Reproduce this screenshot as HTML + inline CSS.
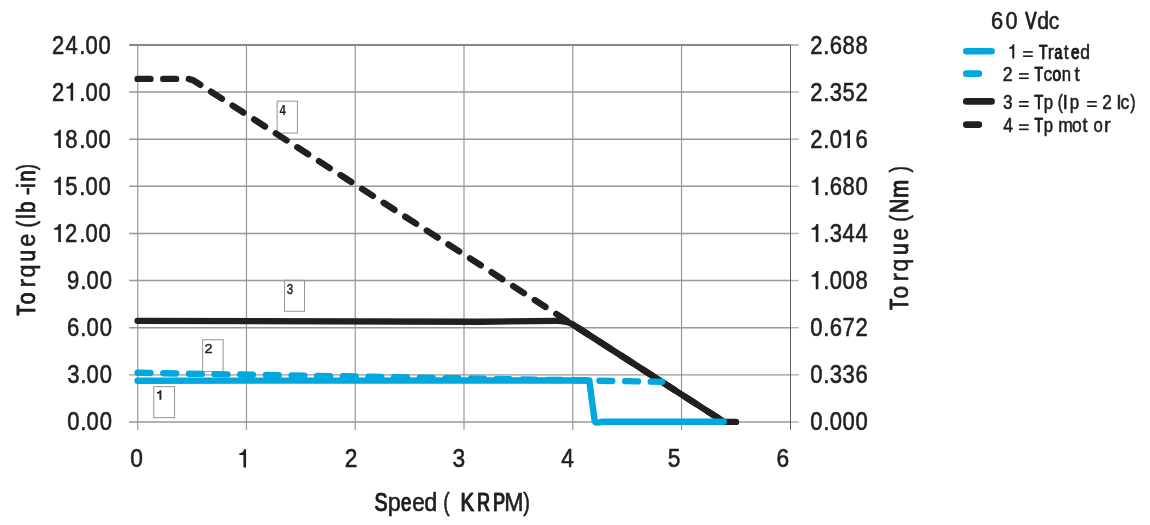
<!DOCTYPE html>
<html><head><meta charset="utf-8"><title>Torque vs Speed - 60 Vdc</title>
<style>html,body{margin:0;padding:0;background:#fff;}svg{display:block;will-change:transform;filter:opacity(1);}text{font-family:"Liberation Sans",sans-serif;fill:#231f20;stroke:#231f20;stroke-width:0.6px;stroke-linejoin:round;}.one{fill:#231f20;stroke:none;}</style>
</head><body>
<svg width="1150" height="525" viewBox="0 0 1150 525">
<rect x="0" y="0" width="1150" height="525" fill="#ffffff"/>
<g stroke="#96989a" stroke-width="1.45" fill="none"><line x1="129.2" y1="422.00" x2="791" y2="422.00"/><line x1="129.2" y1="374.86" x2="791" y2="374.86"/><line x1="129.2" y1="327.72" x2="791" y2="327.72"/><line x1="129.2" y1="280.58" x2="791" y2="280.58"/><line x1="129.2" y1="233.44" x2="791" y2="233.44"/><line x1="129.2" y1="186.30" x2="791" y2="186.30"/><line x1="129.2" y1="139.16" x2="791" y2="139.16"/><line x1="129.2" y1="92.02" x2="791" y2="92.02"/></g>
<g stroke="#96989a" stroke-width="1.2" fill="none"><line x1="137.70" y1="44.78" x2="137.70" y2="430"/><line x1="246.47" y1="44.78" x2="246.47" y2="430"/><line x1="355.24" y1="44.78" x2="355.24" y2="430"/><line x1="464.01" y1="44.78" x2="464.01" y2="430"/><line x1="572.78" y1="44.78" x2="572.78" y2="430"/><line x1="681.55" y1="44.78" x2="681.55" y2="430"/></g>
<line x1="129.2" y1="44.98" x2="791" y2="44.98" stroke="#85878a" stroke-width="1.8"/>
<line x1="790.5" y1="45.68" x2="790.5" y2="430" stroke="#5d5e60" stroke-width="1"/>
<g stroke="#b3b5b7" stroke-width="1.45" fill="none"><line x1="791" y1="422.00" x2="798.8" y2="422.00"/><line x1="791" y1="374.86" x2="798.8" y2="374.86"/><line x1="791" y1="327.72" x2="798.8" y2="327.72"/><line x1="791" y1="280.58" x2="798.8" y2="280.58"/><line x1="791" y1="233.44" x2="798.8" y2="233.44"/><line x1="791" y1="186.30" x2="798.8" y2="186.30"/><line x1="791" y1="139.16" x2="798.8" y2="139.16"/><line x1="791" y1="92.02" x2="798.8" y2="92.02"/></g>
<line x1="791" y1="44.98" x2="798.8" y2="44.98" stroke="#b3b5b7" stroke-width="1.8"/>
<rect x="153.75" y="386.65" width="20.80" height="31.00" fill="#fff" stroke="#929497" stroke-width="1"/>
<rect x="202.65" y="339.75" width="20.50" height="31.90" fill="#fff" stroke="#929497" stroke-width="1"/>
<rect x="284.55" y="280.45" width="20.00" height="30.80" fill="#fff" stroke="#929497" stroke-width="1"/>
<rect x="277.15" y="101.15" width="20.25" height="31.90" fill="#fff" stroke="#929497" stroke-width="1"/>
<line x1="283" y1="280.58" x2="306" y2="280.58" stroke="#96989a" stroke-width="1.45"/>
<path class="one" transform="translate(156.95,399.7)" d="M4.4,0 L2.55,0 L2.55,-6.3 L0,-6.3 L0,-7.6 C1.5,-7.7 2.6,-8.3 3.0,-9.5 L4.4,-9.5 Z"/>
<text transform="translate(204.45,352.8) scale(1.06,1)" font-size="13.6" style="stroke-width:0.45px">2</text>
<text transform="translate(286.75,293.65) scale(0.82,1)" font-size="14.0" style="stroke-width:0.45px">3</text>
<text transform="translate(279.55,114.8) scale(0.78,1)" font-size="14.6" font-weight="bold" style="stroke:none">4</text>
<g fill="none" stroke-linecap="round" stroke-linejoin="round" stroke-width="6.4">
<path d="M137.60,78.9 L187.5,78.9 Q192.5,78.9 197.5,83.0 L572.00,324.00 L724.10,421.90" stroke="#231f20" stroke-dasharray="12.85 12.81"/>
<path d="M137.60,320.85 L480,321.7 L556,320.9 Q566,320.8 572.00,324.00 L724.10,421.90 L736.0,421.9" stroke="#231f20"/>
<path d="M137.60,372.8 L662.0,381.8" stroke="#00a8de" stroke-dasharray="12.85 12.81"/>
<path d="M137.60,380.7 L589.3,380.5 L594.6,420.5 Q595.2,424.2 602.5,421.6 L723.7,421.7" stroke="#00a8de"/>
</g>
<text transform="translate(67.80,430.35) scale(0.858,1)" font-size="25.7" x="-0.70 14.39 21.79 37.17">0.00</text>
<text transform="translate(67.80,383.28) scale(0.858,1)" font-size="25.7" x="-0.68 14.39 21.79 37.17">3.00</text>
<text transform="translate(67.80,336.21) scale(0.858,1)" font-size="25.7" x="-1.01 14.39 21.79 37.17">6.00</text>
<text transform="translate(67.80,289.14) scale(0.858,1)" font-size="25.7" x="-0.90 14.39 21.79 37.17">9.00</text>
<path class="one" transform="translate(54.15,242.07) scale(0.9748)" d="M6.9,0 L4.2,0 L4.2,-12.7 L0,-12.7 L0,-14.5 C2.4,-14.6 4.2,-15.8 4.9,-18.6 L6.9,-18.6 Z"/><text transform="translate(53.90,242.07) scale(0.858,1)" font-size="25.7" x="12.94 29.60 36.77 51.98">2.00</text>
<path class="one" transform="translate(54.15,195.00) scale(0.9748)" d="M6.9,0 L4.2,0 L4.2,-12.7 L0,-12.7 L0,-14.5 C2.4,-14.6 4.2,-15.8 4.9,-18.6 L6.9,-18.6 Z"/><text transform="translate(53.90,195.00) scale(0.858,1)" font-size="25.7" x="13.20 29.60 36.77 51.98">5.00</text>
<path class="one" transform="translate(54.15,147.93) scale(0.9748)" d="M6.9,0 L4.2,0 L4.2,-12.7 L0,-12.7 L0,-14.5 C2.4,-14.6 4.2,-15.8 4.9,-18.6 L6.9,-18.6 Z"/><text transform="translate(53.90,147.93) scale(0.858,1)" font-size="25.7" x="13.11 29.60 36.77 51.98">8.00</text>
<path class="one" transform="translate(66.45,100.86) scale(0.9748)" d="M6.9,0 L4.2,0 L4.2,-12.7 L0,-12.7 L0,-14.5 C2.4,-14.6 4.2,-15.8 4.9,-18.6 L6.9,-18.6 Z"/><text transform="translate(52.85,100.86) scale(0.858,1)" font-size="25.7" x="-0.99 30.82 37.99 53.20">2.00</text>
<text transform="translate(52.85,53.79) scale(0.858,1)" font-size="25.7" x="-0.99 14.86 30.82 37.99 53.20">24.00</text>
<text transform="translate(810.96,430.35) scale(0.858,1)" font-size="25.7" x="-0.70 14.32 21.79 36.83 51.86">0.000</text>
<text transform="translate(810.96,383.28) scale(0.858,1)" font-size="25.7" x="-0.70 14.32 21.79 36.83 51.86">0.336</text>
<text transform="translate(810.96,336.21) scale(0.858,1)" font-size="25.7" x="-0.70 14.32 21.79 36.83 51.86">0.672</text>
<path class="one" transform="translate(811.65,289.14) scale(0.9748)" d="M6.9,0 L4.2,0 L4.2,-12.7 L0,-12.7 L0,-14.5 C2.4,-14.6 4.2,-15.8 4.9,-18.6 L6.9,-18.6 Z"/><text transform="translate(811.40,289.14) scale(0.858,1)" font-size="25.7" x="13.80 21.28 36.31 51.35">.008</text>
<path class="one" transform="translate(811.65,242.07) scale(0.9748)" d="M6.9,0 L4.2,0 L4.2,-12.7 L0,-12.7 L0,-14.5 C2.4,-14.6 4.2,-15.8 4.9,-18.6 L6.9,-18.6 Z"/><text transform="translate(811.40,242.07) scale(0.858,1)" font-size="25.7" x="13.80 21.28 36.31 51.35">.344</text>
<path class="one" transform="translate(811.65,195.00) scale(0.9748)" d="M6.9,0 L4.2,0 L4.2,-12.7 L0,-12.7 L0,-14.5 C2.4,-14.6 4.2,-15.8 4.9,-18.6 L6.9,-18.6 Z"/><text transform="translate(811.40,195.00) scale(0.858,1)" font-size="25.7" x="13.80 21.28 36.31 51.35">.680</text>
<path class="one" transform="translate(843.25,147.93) scale(0.9748)" d="M6.9,0 L4.2,0 L4.2,-12.7 L0,-12.7 L0,-14.5 C2.4,-14.6 4.2,-15.8 4.9,-18.6 L6.9,-18.6 Z"/><text transform="translate(811.21,147.93) scale(0.858,1)" font-size="25.7" x="-0.99 14.03 21.50 51.57">2.06</text>
<text transform="translate(811.21,100.86) scale(0.858,1)" font-size="25.7" x="-0.99 14.03 21.50 36.54 51.57">2.352</text>
<text transform="translate(811.21,53.79) scale(0.858,1)" font-size="25.7" x="-0.99 14.03 21.50 36.54 51.57">2.688</text>
<text transform="translate(130.90,467.40) scale(0.885,1)" font-size="25.7" x="-0.70">0</text>
<path class="one" transform="translate(239.35,467.40) scale(0.9748)" d="M6.9,0 L4.2,0 L4.2,-12.7 L0,-12.7 L0,-14.5 C2.4,-14.6 4.2,-15.8 4.9,-18.6 L6.9,-18.6 Z"/>
<text transform="translate(345.70,467.40) scale(0.885,1)" font-size="25.7" x="-0.99">2</text>
<text transform="translate(453.10,467.40) scale(0.885,1)" font-size="25.7" x="-0.68">3</text>
<text transform="translate(561.50,467.40) scale(0.885,1)" font-size="25.7" x="-0.29">4</text>
<text transform="translate(668.50,467.40) scale(0.885,1)" font-size="25.7" x="-0.73">5</text>
<text transform="translate(777.50,467.40) scale(0.885,1)" font-size="25.7" x="-1.01">6</text>
<text transform="translate(374.24,510.75) scale(0.7537,1)" font-size="25.9">S</text><text transform="translate(374.75,510.75) scale(0.7537,1)" font-size="25.9">S</text>
<text transform="translate(387.76,510.75) scale(0.9063,1)" font-size="25.9">p</text>
<text transform="translate(400.72,510.75) scale(0.7209,1)" font-size="25.9">e</text><text transform="translate(401.33,510.75) scale(0.7209,1)" font-size="25.9">e</text>
<text transform="translate(412.20,510.75) scale(0.8704,1)" font-size="25.9">e</text>
<text transform="translate(424.29,510.75) scale(0.9063,1)" font-size="25.9">d</text>
<text transform="translate(443.22,510.75) scale(0.7500,1)" font-size="25.9">(</text>
<text transform="translate(460.26,510.75) scale(0.7886,1)" font-size="25.9">K</text><text transform="translate(460.67,510.75) scale(0.7886,1)" font-size="25.9">K</text>
<text transform="translate(476.74,510.75) scale(0.6883,1)" font-size="25.9">R</text><text transform="translate(477.45,510.75) scale(0.6883,1)" font-size="25.9">R</text>
<text transform="translate(492.74,510.75) scale(0.6880,1)" font-size="25.9">P</text><text transform="translate(493.45,510.75) scale(0.6880,1)" font-size="25.9">P</text>
<text transform="translate(504.37,510.75) scale(0.8926,1)" font-size="25.9">M</text>
<text transform="translate(523.32,510.75) scale(0.7767,1)" font-size="25.9">)</text>
<text transform="translate(34.85,316.09) rotate(-90) scale(0.6806,1)" font-size="25.9">T</text><text transform="translate(34.85,315.37) rotate(-90) scale(0.6806,1)" font-size="25.9">T</text>
<text transform="translate(34.85,304.45) rotate(-90) scale(0.8265,1)" font-size="25.9">o</text><text transform="translate(34.85,304.15) rotate(-90) scale(0.8265,1)" font-size="25.9">o</text>
<text transform="translate(34.85,287.40) rotate(-90) scale(0.9894,1)" font-size="25.9">r</text>
<text transform="translate(34.85,277.61) rotate(-90) scale(0.9054,1)" font-size="25.9">q</text>
<text transform="translate(34.85,261.83) rotate(-90) scale(0.8165,1)" font-size="25.9">u</text><text transform="translate(34.85,261.50) rotate(-90) scale(0.8165,1)" font-size="25.9">u</text>
<text transform="translate(34.85,246.83) rotate(-90) scale(0.9096,1)" font-size="25.9">e</text>
<text transform="translate(34.85,227.40) rotate(-90) scale(0.7634,1)" font-size="25.9">(</text>
<text transform="translate(34.85,219.29) rotate(-90) scale(0.9500,1)" font-size="25.9">l</text>
<text transform="translate(34.85,213.08) rotate(-90) scale(0.7922,1)" font-size="25.9">b</text><text transform="translate(34.85,212.69) rotate(-90) scale(0.7922,1)" font-size="25.9">b</text>
<text transform="translate(34.85,195.29) rotate(-90) scale(0.9244,1)" font-size="25.9">-</text>
<text transform="translate(34.85,188.18) rotate(-90) scale(0.9500,1)" font-size="25.9">i</text>
<text transform="translate(34.85,181.81) rotate(-90) scale(0.7819,1)" font-size="25.9">n</text><text transform="translate(34.85,181.38) rotate(-90) scale(0.7819,1)" font-size="25.9">n</text>
<text transform="translate(34.85,170.29) rotate(-90) scale(0.7232,1)" font-size="25.9">)</text>
<text transform="translate(907.90,310.19) rotate(-90) scale(0.6887,1)" font-size="25.9">T</text><text transform="translate(907.90,309.49) rotate(-90) scale(0.6887,1)" font-size="25.9">T</text>
<text transform="translate(907.90,298.59) rotate(-90) scale(0.8730,1)" font-size="25.9">o</text>
<text transform="translate(907.90,281.38) rotate(-90) scale(0.9753,1)" font-size="25.9">r</text>
<text transform="translate(907.90,271.40) rotate(-90) scale(0.8891,1)" font-size="25.9">q</text>
<text transform="translate(907.90,255.13) rotate(-90) scale(0.8165,1)" font-size="25.9">u</text><text transform="translate(907.90,254.80) rotate(-90) scale(0.8165,1)" font-size="25.9">u</text>
<text transform="translate(907.90,240.72) rotate(-90) scale(0.8939,1)" font-size="25.9">e</text>
<text transform="translate(907.90,221.70) rotate(-90) scale(0.7634,1)" font-size="25.9">(</text>
<text transform="translate(907.90,213.51) rotate(-90) scale(0.7729,1)" font-size="25.9">N</text><text transform="translate(907.90,213.06) rotate(-90) scale(0.7729,1)" font-size="25.9">N</text>
<text transform="translate(907.90,198.09) rotate(-90) scale(0.8397,1)" font-size="25.9">m</text><text transform="translate(907.90,197.83) rotate(-90) scale(0.8397,1)" font-size="25.9">m</text>
<text transform="translate(907.90,172.49) rotate(-90) scale(0.7634,1)" font-size="25.9">)</text>
<text transform="translate(990.96,28.55) scale(0.8869,1)" font-size="24.6">6</text>
<text transform="translate(1005.62,28.55) scale(0.8819,1)" font-size="24.6">0</text>
<text transform="translate(1024.93,28.55) scale(0.6880,1)" font-size="24.6">V</text><text transform="translate(1025.58,28.55) scale(0.6880,1)" font-size="24.6">V</text>
<text transform="translate(1037.27,28.55) scale(0.8660,1)" font-size="24.6">d</text>
<text transform="translate(1048.66,28.55) scale(0.8567,1)" font-size="24.6">c</text>
<g fill="none" stroke-linecap="round" stroke-width="6.6">
<line x1="966.3" y1="51.3" x2="991.6" y2="51.3" stroke="#00a8de"/>
<line x1="966.3" y1="73.65" x2="978.8" y2="73.65" stroke="#00a8de"/>
<line x1="966.3" y1="101.4" x2="991.6" y2="101.4" stroke="#231f20"/>
<line x1="966.3" y1="124.65" x2="978.8" y2="124.65" stroke="#231f20"/>
</g>
<path class="one" transform="translate(1009.00,58.55) scale(0.7688)" d="M6.9,0 L4.2,0 L4.2,-12.7 L0,-12.7 L0,-14.5 C2.4,-14.6 4.2,-15.8 4.9,-18.6 L6.9,-18.6 Z"/>
<rect class="one" x="1023.10" y="51.08" width="9.70" height="1.65"/><rect class="one" x="1023.10" y="55.38" width="9.70" height="1.65"/>
<text transform="translate(1038.69,58.55) scale(0.6777,1)" font-size="20.6">T</text><text transform="translate(1039.19,58.55) scale(0.6777,1)" font-size="20.6">T</text>
<text transform="translate(1047.85,58.55) scale(0.8870,1)" font-size="20.6">r</text>
<text transform="translate(1054.21,58.55) scale(0.6803,1)" font-size="20.6">a</text><text transform="translate(1054.70,58.55) scale(0.6803,1)" font-size="20.6">a</text>
<text transform="translate(1063.79,58.55) scale(0.8702,1)" font-size="20.6">t</text>
<text transform="translate(1070.87,58.55) scale(0.7472,1)" font-size="20.6">e</text><text transform="translate(1071.20,58.55) scale(0.7472,1)" font-size="20.6">e</text>
<text transform="translate(1080.22,58.55) scale(0.8516,1)" font-size="20.6">d</text>
<text transform="translate(1002.87,80.60) scale(0.8613,1)" font-size="20.6">2</text>
<rect class="one" x="1019.00" y="73.13" width="9.70" height="1.65"/><rect class="one" x="1019.00" y="77.43" width="9.70" height="1.65"/>
<text transform="translate(1034.19,80.60) scale(0.6777,1)" font-size="20.6">T</text><text transform="translate(1034.69,80.60) scale(0.6777,1)" font-size="20.6">T</text>
<text transform="translate(1043.41,80.60) scale(0.8437,1)" font-size="20.6">c</text>
<text transform="translate(1052.27,80.60) scale(0.7668,1)" font-size="20.6">o</text><text transform="translate(1052.55,80.60) scale(0.7668,1)" font-size="20.6">o</text>
<text transform="translate(1061.83,80.60) scale(0.8127,1)" font-size="20.6">n</text>
<text transform="translate(1074.59,80.60) scale(0.9043,1)" font-size="20.6">t</text>
<text transform="translate(1003.10,108.50) scale(0.8296,1)" font-size="20.6">3</text>
<rect class="one" x="1019.00" y="101.03" width="9.70" height="1.65"/><rect class="one" x="1019.00" y="105.33" width="9.70" height="1.65"/>
<text transform="translate(1034.18,108.50) scale(0.7083,1)" font-size="20.6">T</text><text transform="translate(1034.61,108.50) scale(0.7083,1)" font-size="20.6">T</text>
<text transform="translate(1043.67,108.50) scale(0.8110,1)" font-size="20.6">p</text>
<text transform="translate(1057.77,108.50) scale(0.7424,1)" font-size="20.6">(</text>
<text transform="translate(1062.38,108.50) scale(0.9500,1)" font-size="20.6">I</text>
<text transform="translate(1069.86,108.50) scale(0.8212,1)" font-size="20.6">p</text>
<rect class="one" x="1087.10" y="101.03" width="9.70" height="1.65"/><rect class="one" x="1087.10" y="105.33" width="9.70" height="1.65"/>
<text transform="translate(1102.28,108.50) scale(0.8413,1)" font-size="20.6">2</text>
<text transform="translate(1116.13,108.50) scale(0.9500,1)" font-size="20.6">I</text>
<text transform="translate(1120.41,108.50) scale(0.8543,1)" font-size="20.6">c</text>
<text transform="translate(1130.14,108.50) scale(0.7753,1)" font-size="20.6">)</text>
<text transform="translate(1003.35,131.70) scale(0.8561,1)" font-size="20.6">4</text>
<rect class="one" x="1019.00" y="124.23" width="9.70" height="1.65"/><rect class="one" x="1019.00" y="128.53" width="9.70" height="1.65"/>
<text transform="translate(1034.19,131.70) scale(0.6777,1)" font-size="20.6">T</text><text transform="translate(1034.69,131.70) scale(0.6777,1)" font-size="20.6">T</text>
<text transform="translate(1043.67,131.70) scale(0.8110,1)" font-size="20.6">p</text>
<text transform="translate(1058.19,131.70) scale(0.8514,1)" font-size="20.6">m</text>
<text transform="translate(1072.12,131.70) scale(0.8425,1)" font-size="20.6">o</text>
<text transform="translate(1082.59,131.70) scale(0.8702,1)" font-size="20.6">t</text>
<text transform="translate(1093.54,131.70) scale(0.8134,1)" font-size="20.6">o</text>
<text transform="translate(1104.08,131.70) scale(0.9565,1)" font-size="20.6">r</text>
</svg>
</body></html>
